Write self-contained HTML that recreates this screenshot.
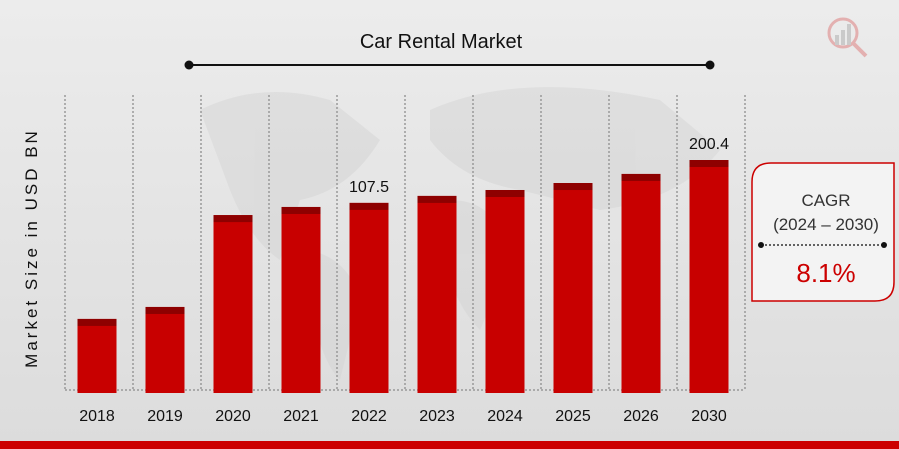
<!DOCTYPE html>
<html><head><meta charset="utf-8"><style>
body{margin:0;width:899px;height:449px;overflow:hidden;background:linear-gradient(180deg,#ececec,#dcdcdc);font-family:"Liberation Sans",sans-serif}
svg{position:absolute;left:0;top:0}
</style></head><body>
<svg width="899" height="449">
<g id="map" fill="#d2d2d2" opacity="0.45">
<path d="M200 110 Q260 80 330 100 L380 140 Q350 190 300 200 L280 260 Q250 240 230 190 Z"/>
<path d="M310 250 Q350 260 360 300 L340 380 Q320 360 310 300 Z"/>
<path d="M430 110 Q520 70 660 100 L720 150 Q680 200 600 210 L520 190 Q460 180 430 140 Z"/>
<path d="M450 200 Q500 200 510 260 L480 330 Q450 300 440 240 Z"/>
</g>
<text x="441" y="48" text-anchor="middle" font-size="20" fill="#111">Car Rental Market</text>
<line x1="189" y1="65" x2="710" y2="65" stroke="#111" stroke-width="2"/>
<circle cx="189" cy="65" r="4.5" fill="#111"/><circle cx="710" cy="65" r="4.5" fill="#111"/>
<text transform="translate(37,248) rotate(-90)" text-anchor="middle" font-size="17" letter-spacing="3" fill="#111">Market Size in USD BN</text>
<g id="grid"></g><g id="bars"></g>
<g opacity="0.5">
<circle cx="843" cy="33" r="14" fill="none" stroke="#d77" stroke-width="3"/>
<line x1="853" y1="43" x2="866" y2="56" stroke="#d77" stroke-width="4"/>
<rect x="835" y="35" width="4" height="10" fill="#aaa"/><rect x="841" y="30" width="4" height="15" fill="#aaa"/><rect x="847" y="24" width="4" height="21" fill="#aaa"/>
</g>
<g>
<path d="M771 163 L894 163 L894 282 Q894 301 875 301 L752 301 L752 182 Q752 163 771 163 Z" fill="#f3f3f3" stroke="#c00" stroke-width="1.5"/>
<text x="826" y="206" text-anchor="middle" font-size="17" fill="#333">CAGR</text>
<text x="826" y="230" text-anchor="middle" font-size="17" fill="#333">(2024 – 2030)</text>
<line x1="761" y1="245" x2="884" y2="245" stroke="#333" stroke-width="1.5" stroke-dasharray="2,2"/>
<circle cx="761" cy="245" r="3" fill="#111"/><circle cx="884" cy="245" r="3" fill="#111"/>
<text x="826" y="282" text-anchor="middle" font-size="26" fill="#c00">8.1%</text>
</g>
<rect x="0" y="441" width="899" height="8" fill="#c00"/>
</svg>
<script>
const categories=["2018","2019","2020","2021","2022","2023","2024","2025","2026","2030"];
const values=[63.7,74,153,160,163.5,169.5,174.6,180.6,188.4,200.4];
const valueLabels=["","","","","107.5","","","","","200.4"];
const NS="http://www.w3.org/2000/svg";
const x0=65,x1=745,base=393,top0=160,maxV=200.4;
const step=(x1-x0)/categories.length;
const y=v=>base-(base-top0)*v/maxV;
const grid=document.getElementById('grid'),bars=document.getElementById('bars');
function mk(t,a,p){const e=document.createElementNS(NS,t);for(const k in a)e.setAttribute(k,a[k]);p.appendChild(e);return e;}
for(let i=0;i<=categories.length;i++){
 const l=mk('line',{x1:x0+i*step,x2:x0+i*step,y1:95,y2:390,stroke:'#999','stroke-width':1.5,'stroke-dasharray':'2,2'},grid);
 
 
}
const bl=mk('line',{x1:x0,x2:x1,y1:390,y2:390,stroke:'#999','stroke-width':1.5,'stroke-dasharray':'2,2'},grid);


categories.forEach((c,i)=>{
 const cx=x0+step*(i+0.5)-2,w=39,t=y(values[i]);
 const r=mk('rect',{x:cx-w/2,y:t,width:w,height:base-t,fill:'#c80000'},bars);
 
 
 const cap=mk('rect',{x:cx-w/2,y:t,width:w,height:7,fill:'#8e0000'},bars);
 
 
 const tx=mk('text',{x:cx,y:421,'text-anchor':'middle','font-size':16,fill:'#111'},bars);
 tx.textContent=c;
 
 
 if(valueLabels[i]){
  const vl=mk('text',{x:cx,y:t-11,'text-anchor':'middle','font-size':16,fill:'#111'},bars);
  vl.textContent=valueLabels[i];
  
  
 }
});
</script>
</body></html>
